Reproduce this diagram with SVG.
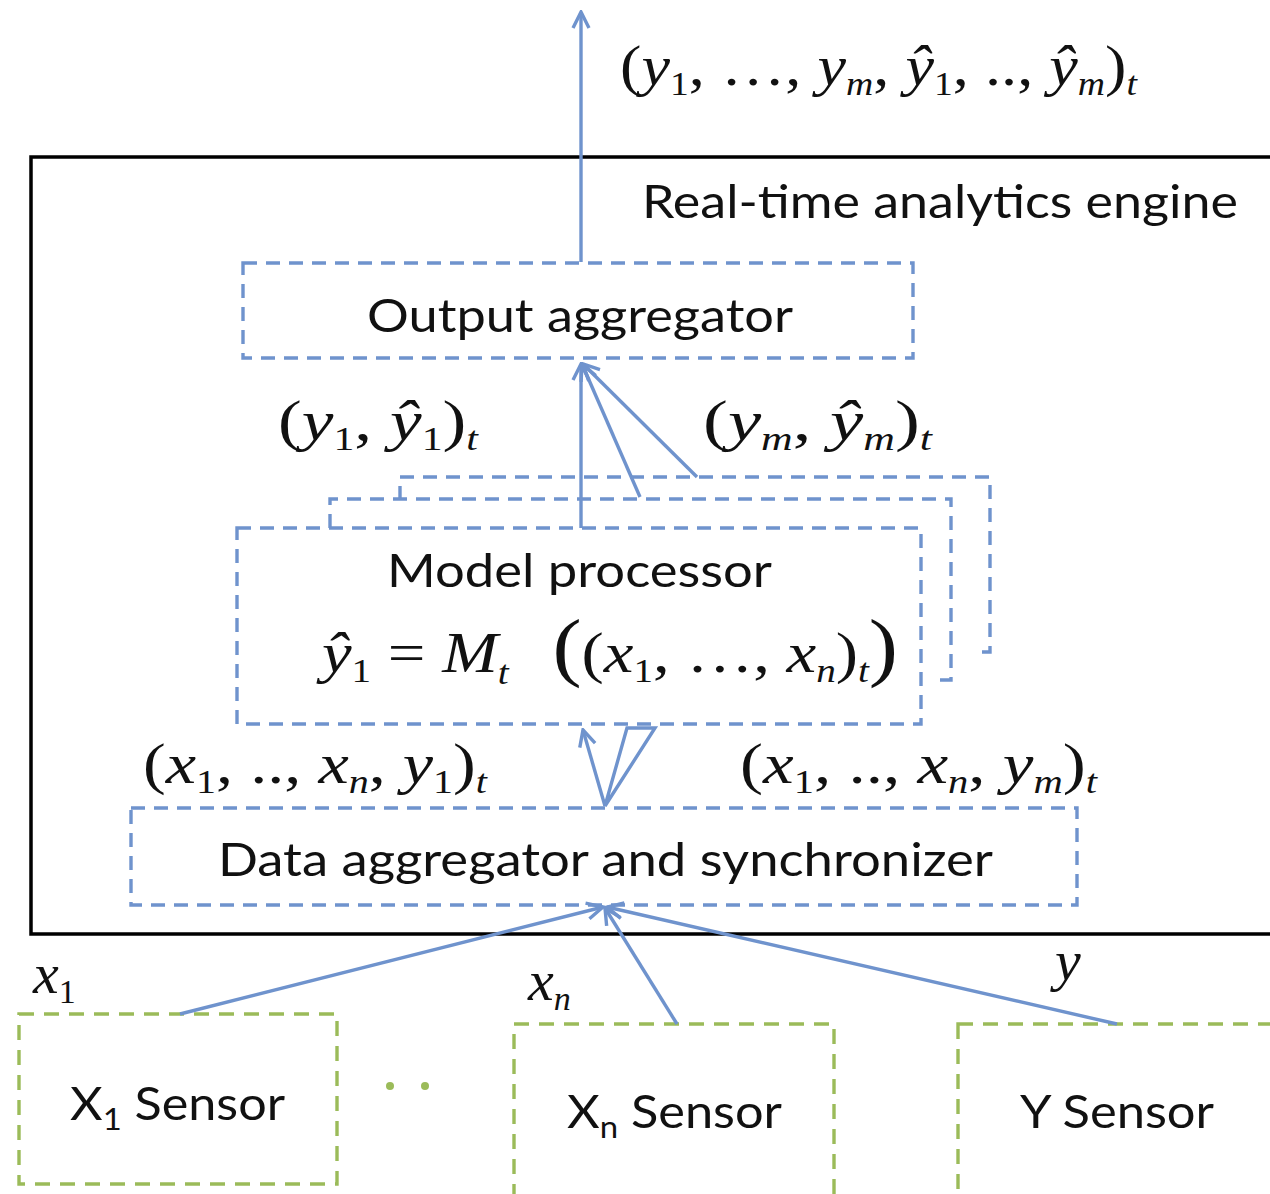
<svg xmlns="http://www.w3.org/2000/svg" width="1270" height="1194" viewBox="0 0 1270 1194">
  <style>
    .blue { fill: none; stroke: #6f93cd; stroke-width: 3.4; stroke-dasharray: 14 9; }
    .green { fill: none; stroke: #9bbb59; stroke-width: 3.4; stroke-dasharray: 15 10; }
    .wire { fill: none; stroke: #6f93cd; stroke-width: 3.4; }
    .label { font-family: Lato, "Open Sans", sans-serif; font-size: 46px; fill: #111; }
    .math { font-family: "Liberation Serif", "Times New Roman", serif; font-size: 58px; fill: #111; white-space: pre; }
    .it { font-style: italic; }
    .sub { font-size: 34px; }
  </style>
  <defs>
    <marker id="head" viewBox="0 0 20 20" refX="18" refY="10" markerWidth="20" markerHeight="20" markerUnits="userSpaceOnUse" orient="auto">
      <path d="M2,2 L18,10 L2,18" fill="none" stroke="#6f93cd" stroke-width="3.4" stroke-linejoin="miter"/>
    </marker>
  </defs>

  <rect width="1270" height="1194" fill="#ffffff"/>

  <!-- engine frame -->
  <g id="engine">
    <rect x="31" y="157" width="1260" height="777" fill="none" stroke="#000" stroke-width="3.5"/>
    <text class="label" x="642" y="218" textLength="596" lengthAdjust="spacingAndGlyphs">Real-time analytics engine</text>
  </g>

  <!-- output aggregator -->
  <g id="output-aggregator">
    <rect class="blue" x="243" y="263" width="670" height="95"/>
    <text class="label" x="367" y="332" textLength="426" lengthAdjust="spacingAndGlyphs">Output aggregator</text>
  </g>

  <!-- stacked model processors -->
  <g id="model-processor">
    <path class="blue" d="M400,500 L400,477 L990,477 L990,652 L973,652"/>
    <path class="blue" d="M330,528 L330,499 L951,499 L951,680 L940,680"/>
    <rect class="blue" x="237" y="528" width="684" height="196"/>
    <text class="label" x="387" y="587" textLength="385" lengthAdjust="spacingAndGlyphs">Model processor</text>
    <text class="math" x="322" y="672" font-size="60" textLength="576" lengthAdjust="spacingAndGlyphs"><tspan class="it">ŷ</tspan><tspan class="sub" dy="10">1</tspan><tspan dy="-10"> = </tspan><tspan class="it">M</tspan><tspan class="sub it" dy="12">t</tspan><tspan dy="-12" font-size="76">  (</tspan><tspan>(</tspan><tspan class="it">x</tspan><tspan class="sub" dy="10">1</tspan><tspan dy="-10">, …, </tspan><tspan class="it">x</tspan><tspan class="sub it" dy="10">n</tspan><tspan dy="-10">)</tspan><tspan class="sub it" dy="10">t</tspan><tspan dy="-10" font-size="76">)</tspan></text>
  </g>

  <!-- data aggregator -->
  <g id="data-aggregator">
    <rect class="blue" x="131" y="808" width="946" height="97"/>
    <text class="label" x="218" y="876" textLength="775" lengthAdjust="spacingAndGlyphs">Data aggregator and synchronizer</text>
  </g>

  <!-- sensors -->
  <g id="sensor-x1">
    <rect class="green" x="19" y="1014" width="318" height="170"/>
    <text class="label" x="70" y="1120" textLength="215" lengthAdjust="spacingAndGlyphs">X<tspan font-size="30" dy="10">1</tspan><tspan dy="-10"> Sensor</tspan></text>
  </g>
  <g id="sensor-dots">
    <circle cx="390" cy="1086" r="4" fill="#9bbb59"/>
    <circle cx="425" cy="1086" r="4" fill="#9bbb59"/>
  </g>
  <g id="sensor-xn">
    <rect class="green" x="514" y="1024" width="320" height="180"/>
    <text class="label" x="567" y="1128" textLength="215" lengthAdjust="spacingAndGlyphs">X<tspan font-size="30" dy="10">n</tspan><tspan dy="-10"> Sensor</tspan></text>
  </g>
  <g id="sensor-y">
    <rect class="green" x="958" y="1024" width="340" height="180"/>
    <text class="label" x="1020" y="1128" textLength="194" lengthAdjust="spacingAndGlyphs">Y Sensor</text>
  </g>

  <!-- connectors -->
  <g id="connectors">
    <line class="wire" x1="581" y1="262" x2="581" y2="12" marker-end="url(#head)"/>
    <line class="wire" x1="581" y1="528" x2="581" y2="364" marker-end="url(#head)"/>
    <line class="wire" x1="640" y1="497" x2="582" y2="364" marker-end="url(#head)"/>
    <line class="wire" x1="697" y1="477" x2="583" y2="364" marker-end="url(#head)"/>
    <line class="wire" x1="605" y1="806" x2="583" y2="730" marker-end="url(#head)"/>
    <path class="wire" d="M605,806 L627,728 L655,728 Z" stroke-linejoin="miter"/>
    <line class="wire" x1="180" y1="1014" x2="603" y2="907" marker-end="url(#head)"/>
    <line class="wire" x1="677" y1="1024" x2="605" y2="908" marker-end="url(#head)"/>
    <line class="wire" x1="1117" y1="1024" x2="607" y2="907" marker-end="url(#head)"/>
  </g>

  <!-- signal labels -->
  <g id="signal-labels">
    <text class="math" x="620" y="85" textLength="517" lengthAdjust="spacingAndGlyphs">(<tspan class="it">y</tspan><tspan class="sub" dy="10">1</tspan><tspan dy="-10">, …, </tspan><tspan class="it">y</tspan><tspan class="sub it" dy="10">m</tspan><tspan dy="-10">, </tspan><tspan class="it">ŷ</tspan><tspan class="sub" dy="10">1</tspan><tspan dy="-10">, .., </tspan><tspan class="it">ŷ</tspan><tspan class="sub it" dy="10">m</tspan><tspan dy="-10">)</tspan><tspan class="sub it" dy="10">t</tspan></text>
    <text class="math" x="278" y="440" textLength="200" lengthAdjust="spacingAndGlyphs">(<tspan class="it">y</tspan><tspan class="sub" dy="10">1</tspan><tspan dy="-10">, </tspan><tspan class="it">ŷ</tspan><tspan class="sub" dy="10">1</tspan><tspan dy="-10">)</tspan><tspan class="sub it" dy="10">t</tspan></text>
    <text class="math" x="703" y="440" textLength="229" lengthAdjust="spacingAndGlyphs">(<tspan class="it">y</tspan><tspan class="sub it" dy="10">m</tspan><tspan dy="-10">, </tspan><tspan class="it">ŷ</tspan><tspan class="sub it" dy="10">m</tspan><tspan dy="-10">)</tspan><tspan class="sub it" dy="10">t</tspan></text>
    <text class="math" x="143" y="783" textLength="344" lengthAdjust="spacingAndGlyphs">(<tspan class="it">x</tspan><tspan class="sub" dy="10">1</tspan><tspan dy="-10">, .., </tspan><tspan class="it">x</tspan><tspan class="sub it" dy="10">n</tspan><tspan dy="-10">, </tspan><tspan class="it">y</tspan><tspan class="sub" dy="10">1</tspan><tspan dy="-10">)</tspan><tspan class="sub it" dy="10">t</tspan></text>
    <text class="math" x="740" y="783" textLength="357" lengthAdjust="spacingAndGlyphs">(<tspan class="it">x</tspan><tspan class="sub" dy="10">1</tspan><tspan dy="-10">, .., </tspan><tspan class="it">x</tspan><tspan class="sub it" dy="10">n</tspan><tspan dy="-10">, </tspan><tspan class="it">y</tspan><tspan class="sub it" dy="10">m</tspan><tspan dy="-10">)</tspan><tspan class="sub it" dy="10">t</tspan></text>
    <text class="math" x="33" y="993"><tspan class="it">x</tspan><tspan class="sub" dy="10">1</tspan></text>
    <text class="math" x="528" y="1000"><tspan class="it">x</tspan><tspan class="sub it" dy="10">n</tspan></text>
    <text class="math it" x="1055" y="980">y</text>
  </g>
</svg>
